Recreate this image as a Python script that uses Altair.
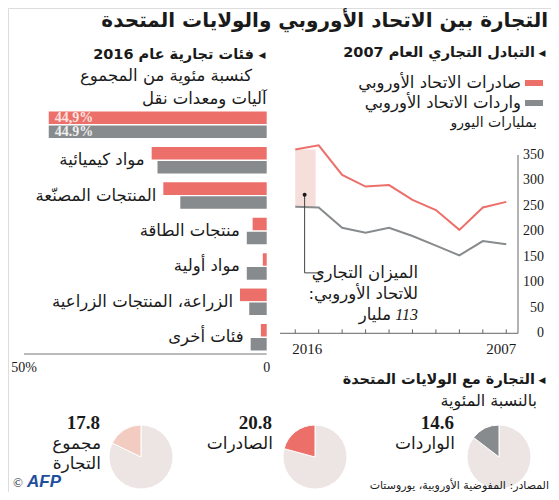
import altair as alt
import pandas as pd

# ---------------- data ----------------
title_main = "التجارة بين الاتحاد الأوروبي والولايات المتحدة"
title_bars = "فئات تجارية عام 2016"
sub_bars = "كنسبة مئوية من المجموع"
title_lines = "التبادل التجاري العام 2007"
sub_lines = "بمليارات اليورو"
title_pies = "التجارة مع الولايات المتحدة"
sub_pies = "بالنسبة المئوية"
source = "المصادر: المفوضية الأوروبية، يوروستات"

categories = ["آليات ومعدات نقل", "مواد كيميائية", "المنتجات المصنّعة", "منتجات الطاقة",
              "مواد أولية", "الزراعة، المنتجات الزراعية", "فئات أخرى"]
series = ["صادرات الاتحاد الأوروبي", "واردات الاتحاد الأوروبي"]
exports_share = [44.9, 23.7, 21.3, 2.9, 0.8, 5.5, 1.2]
imports_share = [44.9, 22.5, 17.8, 4.1, 4.1, 3.6, 3.3]
first_bar_labels = ["44,9%", "44.9%"]
bar_ticks = [50, 0]
bar_tick_labels = ["50%", "0"]

years = list(range(2007, 2017))
eu_exports = [258, 247, 203, 242, 262, 291, 288, 311, 369, 361]
eu_imports = [175, 181, 153, 172, 191, 207, 197.5, 207, 247, 248.5]
line_ticks = [0, 50, 100, 150, 200, 250, 300, 350]
balance_lines = ["الميزان التجاري", "للاتحاد الأوروبي:\u200f"]
balance_value = "113"
balance_unit = "مليار"

pie_names = ["مجموع\nالتجارة", "الصادرات", "الواردات"]
pie_values = [17.8, 20.8, 14.6]

# ---------------- style ----------------
AR = "DejaVu Sans"
NUM = "Liberation Serif"
INK = "#1a1a1a"
RED = "#ec6f6a"
GRAY = "#878b8d"
AXC = "#666666"
PINK = "#f6dfdb"
PIE_BG = "#ece5e3"
PIE_COLORS = ["#f2cbc1", RED, GRAY]
W, H = 543, 484


def P(v):
    return v - 8


def txt(s, x, y, size, bold=False, color=INK, align="right", font=AR, italic=False):
    return alt.Chart(pd.DataFrame({"t": [s]})).mark_text(
        x=P(x), y=P(y), fontSize=size, fontWeight="bold" if bold else "normal",
        fontStyle="italic" if italic else "normal", color=color, align=align,
        baseline="middle", font=font
    ).encode(text="t:N")


layers = []

# titles & texts
layers += [
    txt(title_main, 548, 21, 20, bold=True),
    txt("◀", 262, 55, 9, align="center"),
    txt(title_bars, 254, 55, 14.5, bold=True),
    txt(sub_bars, 252, 76, 16.5),
    txt("◀", 542, 53, 9, align="center"),
    txt(title_lines, 535, 53, 14.5, bold=True),
    txt(series[0], 521, 83, 16.5),
    txt(series[1], 521, 103, 16.5),
    txt(sub_lines, 537, 123, 14),
    txt("◀", 542, 380, 9, align="center"),
    txt(title_pies, 535, 380, 14.5, bold=True),
    txt(sub_pies, 537, 401, 16),
    txt(source, 549, 486, 11),
    txt("©", 18, 483, 13, align="center", font=NUM),
    txt("AFP", 27, 482, 17, bold=True, italic=True, color="#1f4e9c", align="left", font="Liberation Sans"),
]

# legend swatches
for i, c in enumerate([RED, GRAY]):
    layers.append(
        alt.Chart(pd.DataFrame({"s": [series[i]]})).mark_rect(color=c).encode(
            x=alt.value(P(525)), x2=alt.value(P(543)),
            y=alt.value(P(80 + 20 * i)), y2=alt.value(P(86 + 20 * i)))
    )

# ---------------- bar group ----------------
bar_df = pd.DataFrame({
    "cat": categories * 2,
    "ser": [series[0]] * len(categories) + [series[1]] * len(categories),
    "val": exports_share + imports_share,
})
xb = alt.Scale(domain=[0, 50], range=[P(266.7), P(24)])
yb = alt.Scale(domain=categories, range=[P(111.5), P(350.5)], paddingInner=0.25, paddingOuter=0)
yo = alt.Scale(domain=series, paddingInner=0.1, paddingOuter=0)

bars = alt.Chart(bar_df).mark_bar().encode(
    x=alt.X("val:Q", scale=xb, axis=None),
    y=alt.Y("cat:N", scale=yb, axis=None),
    yOffset=alt.YOffset("ser:N", scale=yo),
    color=alt.Color("ser:N", scale=alt.Scale(domain=series, range=[RED, GRAY]), legend=None),
)
first_df = pd.DataFrame({"cat": [categories[0]] * 2, "ser": series,
                         "val": [exports_share[0], imports_share[0]], "lab": first_bar_labels})
pct_red = alt.Chart(first_df.iloc[[0]]).mark_text(
    align="left", dx=6, baseline="middle", font=NUM, fontSize=14, fontWeight="bold", color="#fbe4e0"
).encode(x=alt.X("val:Q", scale=xb, axis=None), y=alt.Y("cat:N", scale=yb, axis=None),
         yOffset=alt.YOffset("ser:N", scale=yo), text="lab:N")
pct_gray = alt.Chart(first_df.iloc[[1]]).mark_text(
    align="left", dx=6, baseline="middle", font=NUM, fontSize=14, fontWeight="bold", color="#eeeeee"
).encode(x=alt.X("val:Q", scale=xb, axis=None), y=alt.Y("cat:N", scale=yb, axis=None),
         yOffset=alt.YOffset("ser:N", scale=yo), text="lab:N")

lab_df = pd.DataFrame({"cat": categories,
                       "m": [max(a, b) for a, b in zip(exports_share, imports_share)]})
cat_labels = alt.Chart(lab_df.iloc[1:]).mark_text(
    align="right", dx=-7, baseline="middle", font=AR, fontSize=16.5, color=INK
).encode(x=alt.X("m:Q", scale=xb, axis=None), y=alt.Y("cat:N", scale=yb, axis=None), text="cat:N")
cat_first = alt.Chart(lab_df.iloc[[0]]).mark_text(
    align="right", dy=-26, baseline="middle", font=AR, fontSize=16.5, color=INK
).encode(x=alt.X(datum=0, type="quantitative", scale=xb, axis=None),
         y=alt.Y("cat:N", scale=yb, axis=None), text="cat:N")
bar_axis = alt.Chart(pd.DataFrame({"a": [0]})).mark_rule(color="#777", strokeWidth=1).encode(
    x=alt.X(datum=0, type="quantitative", scale=xb, axis=None), x2=alt.X2(datum=50),
    y=alt.value(P(354)))
bar_tick_df = pd.DataFrame({"v": bar_ticks, "lab": bar_tick_labels})
bar_tick_text = alt.Chart(bar_tick_df).mark_text(
    font=NUM, fontSize=14, color=INK, baseline="middle", align="center"
).encode(x=alt.X("v:Q", scale=xb, axis=None), y=alt.value(P(368)), text="lab:N")

bar_group = alt.layer(bars, pct_red, pct_gray, cat_labels, cat_first, bar_axis, bar_tick_text)

# ---------------- line group ----------------
line_df = pd.DataFrame({
    "year": years * 2,
    "ser": [series[0]] * len(years) + [series[1]] * len(years),
    "val": eu_exports + eu_imports,
})
xl = alt.Scale(domain=[2016.65, 2006.5], range=[P(280), P(518)])
yl = alt.Scale(domain=[0, 350], range=[P(333.3), P(155)])
YAX = P(333.3)
one = pd.DataFrame({"a": [0]})

bal_df = pd.DataFrame({"year": [years[-1]], "lo": [eu_imports[-1]], "hi": [eu_exports[-1]]})
bal_rect = alt.Chart(bal_df).mark_rect(color=PINK).encode(
    x=alt.X("year:Q", scale=xl, axis=None), x2=alt.X2(datum=2015.13),
    y=alt.Y("lo:Q", scale=yl, axis=None), y2="hi:Q")

lines = alt.Chart(line_df).mark_line(strokeWidth=2).encode(
    x=alt.X("year:Q", scale=xl, axis=None),
    y=alt.Y("val:Q", scale=yl, axis=None),
    color=alt.Color("ser:N", scale=alt.Scale(domain=series, range=[RED, GRAY]), legend=None),
)
x_domain = alt.Chart(one).mark_rule(color=AXC, strokeWidth=1).encode(
    x=alt.X(datum=2016.65, type="quantitative", scale=xl, axis=None), x2=alt.X2(datum=2006.5),
    y=alt.Y(datum=0, type="quantitative", scale=yl, axis=None))
y_domain = alt.Chart(one).mark_rule(color=AXC, strokeWidth=1).encode(
    x=alt.X(datum=2006.5, type="quantitative", scale=xl, axis=None),
    y=alt.Y(datum=0, type="quantitative", scale=yl, axis=None), y2=alt.Y2(datum=350))
y_labels = alt.Chart(pd.DataFrame({"v": line_ticks})).mark_text(
    align="right", baseline="middle", font=NUM, fontSize=14, color=INK
).encode(x=alt.value(P(544)), y=alt.Y("v:Q", scale=yl, axis=None), text=alt.Text("v:Q", format="d"))
xticks = alt.Chart(pd.DataFrame({"year": years})).mark_rule(color=AXC, strokeWidth=1).encode(
    x=alt.X("year:Q", scale=xl, axis=None), y=alt.value(YAX - 4), y2=alt.value(YAX))
xlab_l = alt.Chart(pd.DataFrame({"year": [years[-1]], "lab": [str(years[-1])]})).mark_text(
    align="left", dx=-3, font=NUM, fontSize=15, color=INK, baseline="middle"
).encode(x=alt.X("year:Q", scale=xl, axis=None), y=alt.value(P(349)), text="lab:N")
xlab_r = alt.Chart(pd.DataFrame({"year": [years[0]], "lab": [str(years[0])]})).mark_text(
    align="right", dx=10, font=NUM, fontSize=15, color=INK, baseline="middle"
).encode(x=alt.X("year:Q", scale=xl, axis=None), y=alt.value(P(349)), text="lab:N")

dot = alt.Chart(one).mark_point(filled=True, size=16, color=INK, opacity=1).encode(
    x=alt.X(datum=2015.6, type="quantitative", scale=xl, axis=None),
    y=alt.Y(datum=272, type="quantitative", scale=yl, axis=None))
lead_v = alt.Chart(one).mark_rule(color="#444", strokeWidth=1).encode(
    x=alt.X(datum=2015.6, type="quantitative", scale=xl, axis=None),
    y=alt.Y(datum=272, type="quantitative", scale=yl, axis=None), y2=alt.Y2(datum=118.6))
lead_h = alt.Chart(one).mark_rule(color="#444", strokeWidth=1).encode(
    x=alt.X(datum=2015.6, type="quantitative", scale=xl, axis=None), x2=alt.X2(datum=2014.8),
    y=alt.Y(datum=118.6, type="quantitative", scale=yl, axis=None))

line_group = alt.layer(bal_rect, lines, x_domain, y_domain, y_labels, xticks, xlab_l, xlab_r,
                       lead_v, lead_h, dot)

layers += [
    txt(balance_lines[0], 418, 273, 16.5),
    txt(balance_lines[1], 418, 294, 16.5),
    txt(balance_value, 418, 315, 16, italic=True, font=NUM),
    txt(balance_unit, 391, 315, 16.5),
]

# ---------------- pies ----------------
pie_centers = [(141, 443), (315, 443), (499, 443)]
pie_label_right = [100, 272, 454]
PIE_SHIFT = 14
pie_layers = []
for i, v in enumerate(pie_values):
    pdf = pd.DataFrame({"k": ["rest", "part"], "v": [100 - v, v], "o": [0, 1]})
    cx, cy = pie_centers[i]
    pie_layers.append(
        alt.Chart(pdf).mark_arc(radius=32, stroke="white", strokeWidth=1).encode(
            theta=alt.Theta("v:Q", stack=True),
            order=alt.Order("o:Q"),
            color=alt.Color("k:N", scale=alt.Scale(domain=["rest", "part"],
                                                   range=[PIE_BG, PIE_COLORS[i]]), legend=None),
            x=alt.value(P(cx)), y=alt.value(P(cy) + PIE_SHIFT))
    )
    layers.append(txt(f"{v}", pie_label_right[i], 423, 19, bold=True, font=NUM))
    names = pie_names[i].split("\n")
    for j, nm in enumerate(names):
        layers.append(txt(nm, pie_label_right[i] + 1, 444 + 20 * j, 17))

chart = alt.layer(bar_group, line_group, *pie_layers, *layers).resolve_scale(
    x="independent", y="independent", color="independent", theta="independent",
    yOffset="independent"
).properties(
    width=W, height=H, padding=0, autosize=alt.AutoSizeParams(type="none")
).configure_view(stroke=None).configure(background="white")

chart.save("out.html", embed_options={"renderer": "svg", "actions": False})
